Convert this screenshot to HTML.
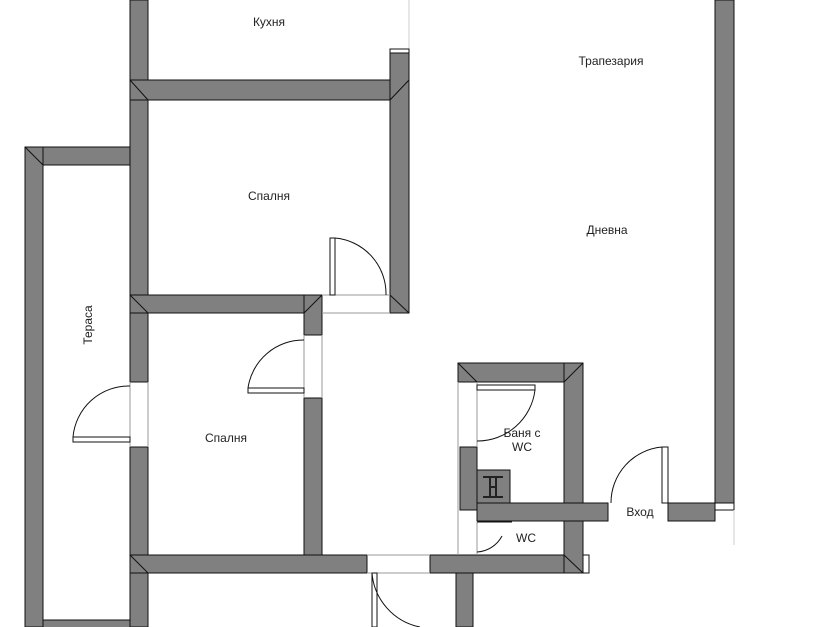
<!DOCTYPE html>
<html><head><meta charset="utf-8"><style>
html,body{margin:0;padding:0;background:#fff;width:819px;height:627px;overflow:hidden}
svg text{font-family:"Liberation Sans",sans-serif;font-size:12px;fill:#222}
</style></head><body>
<svg width="819" height="627" viewBox="0 0 819 627" xmlns="http://www.w3.org/2000/svg">
<g fill="#808080" stroke="#111" stroke-width="1">
<!-- left vertical wall -->
<rect x="130" y="0" width="18" height="382"/>
<rect x="130" y="447" width="18" height="180"/>
<!-- kitchen/bedroom top wall -->
<rect x="130" y="80" width="279" height="20"/>
<!-- right wall of bedroom1 -->
<rect x="390" y="52" width="19" height="261"/>
<!-- bedroom1 bottom wall -->
<rect x="130" y="295" width="192" height="18"/>
<!-- bedroom2 right wall -->
<rect x="304" y="295" width="18" height="40"/>
<rect x="304" y="398" width="18" height="157"/>
<!-- terrace -->
<rect x="25" y="147" width="105" height="18"/>
<rect x="25" y="147" width="18" height="480"/>
<rect x="43" y="620" width="87" height="8"/>
<!-- bottom wall -->
<rect x="130" y="555" width="237" height="18"/>
<rect x="430" y="555" width="153" height="18"/>
<rect x="456" y="573" width="17" height="54"/>
<!-- bathroom -->
<rect x="458" y="363" width="125" height="19"/>
<rect x="564" y="363" width="19" height="210"/>
<rect x="460" y="447" width="17" height="63"/>
<rect x="477" y="470" width="33" height="33"/>
<!-- hallway wall -->
<rect x="477" y="503" width="131" height="18"/>
<rect x="668" y="503" width="47" height="18"/>
<!-- right outer wall -->
<rect x="715" y="0" width="19" height="503"/>
</g>
<g stroke="#111" stroke-width="1" fill="none">
<!-- miter lines -->
<line x1="130" y1="80" x2="148" y2="100"/>
<line x1="409" y1="80" x2="390" y2="100"/>
<line x1="130" y1="295" x2="148" y2="313"/>
<line x1="322" y1="295" x2="304" y2="313"/>
<line x1="25" y1="147" x2="43" y2="165"/>
<line x1="130" y1="555" x2="148" y2="573"/>
<line x1="458" y1="363" x2="477" y2="382"/>
<line x1="583" y1="363" x2="564" y2="382"/>
<line x1="583" y1="573" x2="564" y2="555"/>
<line x1="390" y1="295" x2="409" y2="313"/>
<!-- H symbol -->
<path d="M483 477h20M483 497h20M490 477v20M496 477v20M490 487h6" stroke="#222" stroke-width="2"/>
<!-- thin frames -->
<line x1="409" y1="0" x2="409" y2="52" stroke="#ccc"/>
<rect x="390" y="49" width="19" height="4" fill="#fff"/>
<rect x="715" y="503" width="19" height="7" fill="#fff"/>
<line x1="734" y1="510" x2="734" y2="545" stroke="#ccc"/>
<rect x="583" y="555" width="6" height="18" fill="#fff"/>
<!-- door openings lines -->
<line x1="322" y1="295" x2="390" y2="295" stroke="#999"/>
<line x1="322" y1="313" x2="390" y2="313" stroke="#999"/>
<line x1="304" y1="335" x2="304" y2="398" stroke="#999"/>
<line x1="322" y1="335" x2="322" y2="398" stroke="#999"/>
<line x1="130" y1="382" x2="130" y2="447" stroke="#999"/>
<line x1="148" y1="382" x2="148" y2="447" stroke="#999"/>
<line x1="367" y1="555" x2="430" y2="555" stroke="#999"/>
<line x1="367" y1="573" x2="430" y2="573" stroke="#999"/>
<line x1="458" y1="382" x2="458" y2="555" stroke="#999"/>
<line x1="477" y1="382" x2="477" y2="447" stroke="#999"/>
<line x1="477" y1="521" x2="477" y2="555" stroke="#999"/>
<!-- doors -->
<rect x="330" y="238" width="5" height="57" fill="#fff"/>
<path d="M335 238 A56 56 0 0 1 386 295"/>
<rect x="248" y="388" width="56" height="5" fill="#fff"/>
<path d="M248 388 A56 56 0 0 1 304 340"/>
<rect x="73" y="437" width="57" height="5" fill="#fff"/>
<path d="M73 437 A56 56 0 0 1 130 386"/>
<rect x="372" y="573" width="5" height="54" fill="#fff"/>
<path d="M372 573 A60 60 0 0 0 420 627"/>
<rect x="477" y="385" width="58" height="5" fill="#fff"/>
<path d="M535 390 A58 58 0 0 1 477 441"/>
<rect x="662" y="447" width="6" height="56" fill="#fff"/>
<path d="M662 447 A56 56 0 0 0 611 503"/>
<line x1="477" y1="522" x2="512" y2="522"/>
<path d="M502 536 A30 30 0 0 1 477 552"/>
</g>
<text x="269" y="26" text-anchor="middle">Кухня</text>
<text x="611" y="65" text-anchor="middle">Трапезария</text>
<text x="269" y="200" text-anchor="middle">Спалня</text>
<text x="607" y="234" text-anchor="middle">Дневна</text>
<text x="0" y="0" text-anchor="middle" transform="translate(92,325) rotate(-90)">Тераса</text>
<text x="226" y="442" text-anchor="middle">Спалня</text>
<text x="522" y="437" text-anchor="middle">Баня с</text>
<text x="522" y="451" text-anchor="middle">WC</text>
<text x="640" y="516" text-anchor="middle">Вход</text>
<text x="526" y="542" text-anchor="middle">WC</text>
</svg>
</body></html>
